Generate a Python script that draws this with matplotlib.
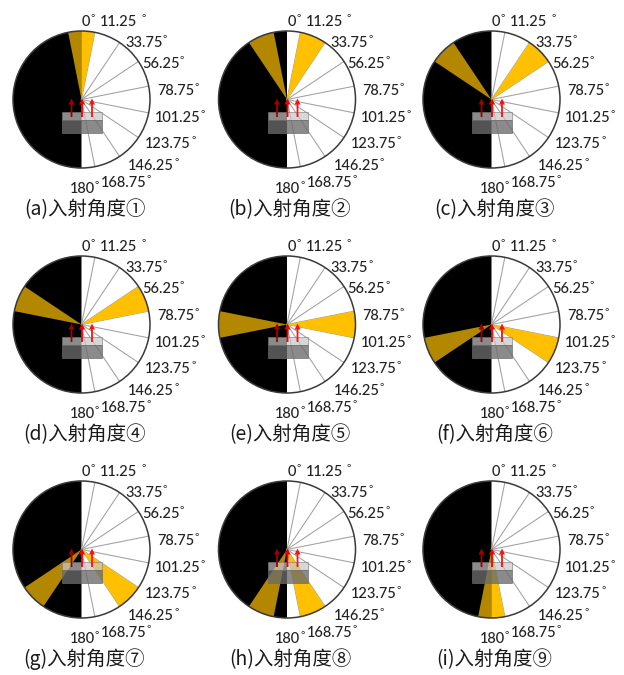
import numpy as np
import matplotlib
matplotlib.use("Agg")
import matplotlib.pyplot as plt
from matplotlib.patches import Polygon, Circle, Rectangle

# ---- data -------------------------------------------------------------
panel_letters = ['a', 'b', 'c', 'd', 'e', 'f', 'g', 'h', 'i']
panel_marks = ['①', '②', '③', '④', '⑤', '⑥', '⑦', '⑧', '⑨']
# incident sector (degrees, clockwise from the top) for each panel
beam_start = [0.0, 11.25, 33.75, 56.25, 78.75, 101.25, 123.75, 146.25, 168.75]
beam_end = [11.25, 33.75, 56.25, 78.75, 101.25, 123.75, 146.25, 168.75, 180.0]
# sector boundaries drawn on the white half
sector_edges = [11.25, 33.75, 56.25, 78.75, 101.25, 123.75, 146.25, 168.75]
angle_labels = ['0°', '11.25 °', '33.75°', '56.25°', '78.75°',
                '101.25°', '123.75°', '146.25°', '168.75°', '180°']

# ---- layout (pixels) --------------------------------------------------
W, H = 624, 675
col_x = [81.5, 287.0, 491.5]
row_y = [99.5, 324.5, 549.5]
R = 68.5
label_offsets = [(0.5, -73.5), (18.5, -73.5), (43.5, -52.5), (60.5, -31.5),
                 (75.5, -4.5), (73.5, 22.5), (63.5, 48.5), (46.5, 70.5),
                 (19.5, 87.5), (-12.0, 93.5)]
LABEL_FONT = ['Lato', 'DejaVu Sans']
TEXT_COLOR = '#222222'

GOLD = '#FFC000'
GOLD_DARK = '#B38700'

fig = plt.figure(figsize=(W / 100, H / 100), dpi=100)
ax = fig.add_axes([0, 0, 1, 1])
ax.set_xlim(0, W)
ax.set_ylim(H, 0)
ax.axis('off')
renderer = fig.canvas.get_renderer()


def arc_pts(cx, cy, r, a0, a1, n=120):
    t = np.radians(np.linspace(a0, a1, n))
    return np.column_stack([cx + r * np.sin(t), cy - r * np.cos(t)])


def sector(cx, cy, r, a0, a1, **kw):
    pts = np.vstack([[cx, cy], arc_pts(cx, cy, r, a0, a1)])
    return Polygon(pts, closed=True, **kw)


def degree_label(x, y, label):
    """Number on the baseline, degree ring raised as a superscript."""
    num = label.replace('°', '')
    gap = 4.0 if num.endswith(' ') else 0.3
    num = num.rstrip()
    t = ax.text(x, y, num, ha='left', va='baseline', fontsize=10.5,
                family=LABEL_FONT, weight='medium', color=TEXT_COLOR, zorder=7)
    x1 = t.get_window_extent(renderer).x1
    ax.text(x1 + gap, y - 4.5, '°', ha='left', va='baseline', fontsize=7.5,
            family=LABEL_FONT, color=TEXT_COLOR, zorder=7)


for k in range(9):
    cx = col_x[k % 3]
    cy = row_y[k // 3]

    # white right half, black left half
    ax.add_patch(sector(cx, cy, R, 0, 180, fc='white', ec='none', zorder=1))
    ax.add_patch(sector(cx, cy, R, 180, 360, fc='black', ec='none', zorder=1))

    # sector boundary lines
    for a in sector_edges:
        p = arc_pts(cx, cy, R, a, a, n=1)[0]
        ax.plot([cx, p[0]], [cy, p[1]], color='#a0a0a0', lw=0.75, zorder=2)

    # incident sector and its mirror on the dark side
    s, e = beam_start[k], beam_end[k]
    ax.add_patch(sector(cx, cy, R, s, e, fc=GOLD, ec='none', zorder=3))
    ax.add_patch(sector(cx, cy, R, -e, -s, fc=GOLD_DARK, ec='none', zorder=3))

    # sample block (two translucent layers)
    ax.add_patch(Rectangle((cx - 19.5, cy + 12.5), 40, 7.5, fc=(0.78, 0.78, 0.78),
                           alpha=0.70, ec='#7a7a7a', lw=0.6, zorder=4))
    ax.add_patch(Rectangle((cx - 19.5, cy + 20), 40, 13, fc=(0.42, 0.42, 0.42),
                           alpha=0.78, ec='#6a6a6a', lw=0.6, zorder=4))

    # emitted rays
    for dx, col in [(-10, '#a00000'), (0.5, '#f00000'), (10.5, '#ff1010')]:
        ax.arrow(cx + dx, cy + 17.5, 0, -18.5, width=1.8, head_width=6,
                 head_length=6, length_includes_head=True, fc=col, ec='none',
                 zorder=5)

    # outline
    ax.add_patch(Circle((cx, cy), R, fill=False, ec='#3a3a3a', lw=1.1, zorder=6))

    # angle labels
    for lab, (ox, oy) in zip(angle_labels, label_offsets):
        degree_label(cx + ox, cy + oy, lab)

    # panel caption
    ax.text(cx + 3, cy + 110, f'({panel_letters[k]})入射角度{panel_marks[k]}',
            ha='center', va='center', fontsize=14,
            family=['Noto Sans CJK SC', 'DejaVu Sans'], color='#1a1a1a')

fig.savefig('out.png', dpi=100)
